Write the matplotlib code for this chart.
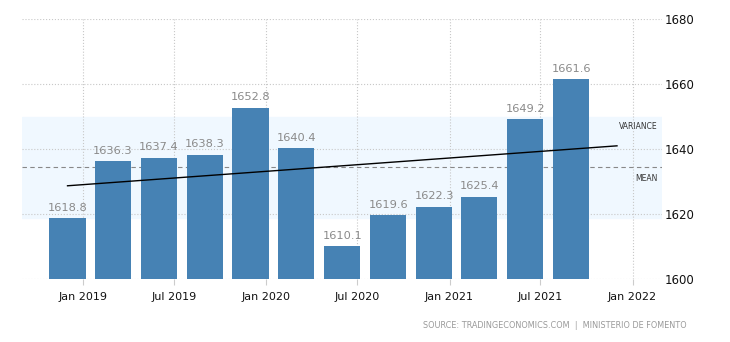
import numpy as np
import matplotlib
matplotlib.use("Agg")
import matplotlib.pyplot as plt
import matplotlib.dates as mdates
from datetime import date

# quarterly values (dates as plotted on the chart)
dates = [date(2018, 12, 1), date(2019, 3, 1), date(2019, 6, 1), date(2019, 9, 1),
         date(2019, 12, 1), date(2020, 3, 1), date(2020, 6, 1), date(2020, 9, 1),
         date(2020, 12, 1), date(2021, 3, 1), date(2021, 6, 1), date(2021, 9, 1)]
values = [1618.8, 1636.3, 1637.4, 1638.3, 1652.8, 1640.4,
          1610.1, 1619.6, 1622.3, 1625.4, 1649.2, 1661.6]
trend_end = date(2021, 12, 1)
tick_dates = [date(2019, 1, 1), date(2019, 7, 1), date(2020, 1, 1), date(2020, 7, 1),
              date(2021, 1, 1), date(2021, 7, 1), date(2022, 1, 1)]
tick_labels = ["Jan 2019", "Jul 2019", "Jan 2020", "Jul 2020",
               "Jan 2021", "Jul 2021", "Jan 2022"]
y_ticks = [1600, 1620, 1640, 1660, 1680]

plt.rcParams['font.family'] = ['DejaVu Sans']

fig = plt.figure(figsize=(7.3, 3.42), dpi=100)
ax = fig.add_axes([0.030, 0.184, 0.877, 0.760])

xd = mdates.date2num(dates)
vals = np.array(values)

# variance band and mean
mean = vals.mean()
std = vals.std(ddof=1)
ax.axhspan(mean - std, mean + std, color='#f0f8ff', zorder=0)
ax.axhline(mean, color='#888888', lw=0.8, ls=(0, (4, 3)), zorder=1)

bars = ax.bar(xd, vals - 1600, bottom=1600, width=72, color='#4682b4', zorder=2)
for x, v in zip(xd, vals):
    ax.text(x, v + 1.6, f"{v:.1f}", ha='center', va='bottom', fontsize=8.2,
            color='#8a8a8a', zorder=4)

# linear trend
idx = np.arange(len(vals))
m, b = np.polyfit(idx, vals, 1)
tx = mdates.date2num([dates[0], trend_end])
ax.plot(tx, [b, b + m * len(vals)], color='black', lw=1, zorder=3)

ax.text(mdates.date2num(date(2022, 2, 20)), mean + std - 1.5, "VARIANCE",
        ha='right', va='top', fontsize=5.5, color='#333333')
ax.text(mdates.date2num(date(2022, 2, 20)), mean - 2, "MEAN",
        ha='right', va='top', fontsize=5.5, color='#333333')

ax.set_xlim(mdates.date2num(date(2018, 9, 1)), mdates.date2num(date(2022, 3, 1)))
ax.set_ylim(1600, 1680)
ax.set_xticks(mdates.date2num(tick_dates))
ax.set_xticklabels(tick_labels)
ax.set_yticks(y_ticks)
ax.yaxis.tick_right()
ax.tick_params(axis='y', length=0, pad=2, labelsize=8.5, labelcolor='#111111')
ax.tick_params(axis='x', length=4, color='#cccccc', pad=5, labelsize=8,
               labelcolor='#111111')
ax.grid(True, color='#c8c8c8', ls=':', lw=0.8, zorder=0)
ax.set_axisbelow(True)
for s in ax.spines.values():
    s.set_visible(False)

fig.text(0.940, 0.048, "SOURCE: TRADINGECONOMICS.COM  |  MINISTERIO DE FOMENTO",
         ha='right', va='center', fontsize=5.9, color='#999999')

fig.savefig("out.png", dpi=100)
